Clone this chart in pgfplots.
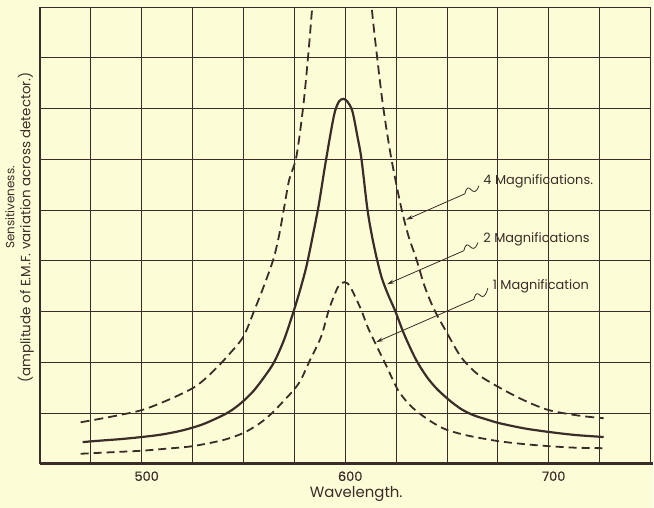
\documentclass[border=0pt]{standalone}
\usepackage{fontspec}
\setmainfont{Poppins}
\newfontfamily\tickfont[FakeBold=0.6]{Poppins}
\usepackage{pgfplots}
\pgfplotsset{compat=1.18}
\usetikzlibrary{arrows.meta,backgrounds}
\definecolor{ink}{HTML}{3A2C28}
\definecolor{paper}{HTML}{FCFCD6}

\pgfplotstableread{
x y
470 0.82
485 0.93
500 1.06
513 1.26
525 1.49
531 1.67
537 1.90
543 2.16
550 2.51
555.4 3.03
560 3.50
564.7 4.03
567.5 4.50
570 5.05
572.5 5.60
576 6.05
579.4 7.05
581.8 8.04
583.8 9.00
587 10.6
592 12.9
599 14.3
606 12.9
610 10.5
613 9.00
615.6 8.04
618.6 7.05
622.5 6.05
627.4 5.07
631 4.50
635 4.03
639 3.50
643.6 3.05
650 2.58
657 2.10
665 1.77
675.5 1.51
688 1.25
700 1.06
715 0.95
727 0.90
}\four

\pgfplotstableread{
x y
471 0.43
480 0.46
490 0.49
500 0.53
510 0.58
520 0.66
530 0.78
540 0.96
545 1.08
550 1.24
555 1.44
560 1.70
565 2.00
570 2.45
575 3.05
578 3.45
581 3.90
584 4.48
587 5.10
590 5.85
593 6.55
595 6.95
597 7.14
599 7.19
601 7.14
603.5 6.95
606 6.45
608 6.00
610.8 5.05
613 4.52
615.6 4.03
618 3.66
621 3.34
624.5 3.02
629 2.55
634.7 2.06
640 1.72
645 1.48
651 1.26
657 1.08
663 0.96
670 0.87
676 0.80
688 0.70
700 0.63
713 0.57
727 0.53
}\two

\pgfplotstableread{
x y
470 0.20
485 0.23
500 0.26
512 0.30
525 0.35
540 0.47
550 0.61
558 0.80
564 1.00
570 1.25
575 1.47
578.4 1.67
582.4 2.02
588.2 2.51
592 3.04
596 3.45
598 3.56
599.5 3.58
601 3.56
603 3.45
607.8 3.04
611 2.70
615 2.36
620 1.95
626 1.45
632 1.15
638 0.95
644 0.79
650 0.67
660 0.56
675 0.45
688 0.39
700 0.35
713 0.32
727 0.31
}\one

\begin{document}
\begin{tikzpicture}
\begin{axis}[
  scale only axis, width=612bp, height=458bp,
  xmin=450, xmax=750, ymin=0, ymax=9,
  xtick={500,600,700}, minor xtick={450,475,...,750},
  ytick={0,1,...,9}, yticklabels={},
  major tick length=0pt, minor tick length=0pt,
  grid=both,
  major grid style={draw=ink, line width=0.9bp},
  minor grid style={draw=ink, line width=0.9bp},
  axis line style={draw=none},
  /pgf/number format/assume math mode=true,
  xticklabel style={font=\tickfont\fontsize{13}{14}\selectfont, text=ink, xshift=5bp, yshift=-4bp},
  clip=true,
]
\addplot[ink, line width=1.8bp, dash pattern=on 9bp off 5bp, smooth] table {\four};
\addplot[ink, line width=2.2bp, smooth] table {\two};
\addplot[ink, line width=1.8bp, dash pattern=on 8bp off 5bp, smooth] table {\one};

% annotations
\draw[ink, line width=0.8bp, -{Stealth[length=7bp,width=4bp]}]
  (axis cs:665.7,5.48) .. controls (axis cs:662.7,5.16) and (axis cs:660.8,5.64) .. (axis cs:658.8,5.32) -- (axis cs:629.9,4.81);
\node[anchor=west, text=ink, font=\fontsize{13}{14}\selectfont] at (axis cs:666.2,5.56) {4 Magnifications.};

\draw[ink, line width=0.8bp, -{Stealth[length=7bp,width=4bp]}]
  (axis cs:665.2,4.36) .. controls (axis cs:662.2,4.04) and (axis cs:660.3,4.52) .. (axis cs:658.3,4.20) -- (axis cs:620.6,3.54);
\node[anchor=west, text=ink, font=\fontsize{13}{14}\selectfont] at (axis cs:666.2,4.42) {2 Magnifications};

\draw[ink, line width=0.8bp, -{Stealth[length=7bp,width=4bp]}]
  (axis cs:670.1,3.46) .. controls (axis cs:667.2,3.06) and (axis cs:665.2,3.56) .. (axis cs:663.2,3.24) -- (axis cs:615.2,2.40);
\node[anchor=west, text=ink, font=\fontsize{13}{14}\selectfont] at (axis cs:670.8,3.50) {1 Magnification};
\end{axis}

% frame
\draw[ink, line width=3bp] (current axis.south west) -- ([xshift=2bp]current axis.south east);
\draw[ink, line width=1.8bp] (current axis.south west) -- (current axis.north west);

% axis labels
\node[text=ink, font=\fontsize{15}{16}\selectfont] at ([xshift=317bp,yshift=-30bp]current axis.south west) {Wavelength.};
\node[text=ink, font=\fontsize{12}{13}\selectfont, rotate=90] at ([xshift=-30bp,yshift=257bp]current axis.south west) {Sensitiveness.};
\node[text=ink, font=\fontsize{13.5}{14}\selectfont, rotate=90] at ([xshift=-14bp,yshift=237bp]current axis.south west) {(amplitude of E.M.F. variation across detector.)};

\begin{scope}[on background layer]
\fill[paper] ([xshift=-40bp,yshift=-44bp]current axis.south west) rectangle ([xshift=2bp,yshift=7bp]current axis.north east);
\end{scope}
\end{tikzpicture}
\end{document}
